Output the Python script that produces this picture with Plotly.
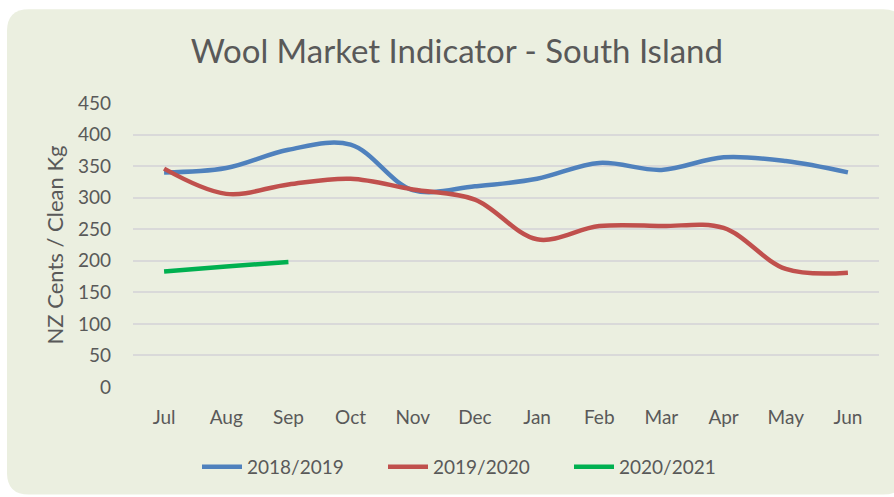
import plotly.graph_objects as go

months = ["Jul", "Aug", "Sep", "Oct", "Nov", "Dec", "Jan", "Feb", "Mar", "Apr", "May", "Jun"]
s2018_2019 = [340, 347, 376, 384, 312, 318, 330, 355, 344, 364, 358, 340]
s2019_2020 = [346, 306, 321, 330, 313, 297, 234, 255, 255, 252, 187, 181]
s2020_2021 = [183, 191, 198]
y_ticks = [0, 50, 100, 150, 200, 250, 300, 350, 400, 450]

W, H = 894, 497
ML, MR, MT, MB = 133, 15, 103, 109
PW, PH = W - ML - MR, H - MT - MB

def fx(px):
    return (px - ML) / PW

def fy(py):
    return (H - MB - py) / PH

TXT = "#595959"
FONT = "Lato"
BG = "#EBEFE0"

fig = go.Figure()
fig.add_trace(go.Scatter(x=months, y=s2018_2019, mode="lines", name="2018/2019",
                         line=dict(color="#4F81BD", width=4.5, shape="spline", smoothing=1)))
fig.add_trace(go.Scatter(x=months, y=s2019_2020, mode="lines", name="2019/2020",
                         line=dict(color="#C0504D", width=4.5, shape="spline", smoothing=1)))
fig.add_trace(go.Scatter(x=months[:len(s2020_2021)], y=s2020_2021, mode="lines", name="2020/2021",
                         line=dict(color="#00B050", width=4.5, shape="spline", smoothing=1)))

# rounded background panel
x0, x1, y0, y1 = 7, 905, 9, 496
r = 22
rx, ry = r / PW, r / PH
path = (f"M {fx(x0)+rx},{fy(y0)} L {fx(x1)-rx},{fy(y0)} Q {fx(x1)},{fy(y0)} {fx(x1)},{fy(y0)-ry} "
        f"L {fx(x1)},{fy(y1)+ry} Q {fx(x1)},{fy(y1)} {fx(x1)-rx},{fy(y1)} "
        f"L {fx(x0)+rx},{fy(y1)} Q {fx(x0)},{fy(y1)} {fx(x0)},{fy(y1)+ry} "
        f"L {fx(x0)},{fy(y0)-ry} Q {fx(x0)},{fy(y0)} {fx(x0)+rx},{fy(y0)} Z")
fig.add_shape(type="path", path=path, xref="paper", yref="paper",
              fillcolor=BG, line=dict(width=0), layer="below")

fig.update_layout(
    width=W, height=H,
    margin=dict(l=ML, r=MR, t=MT, b=MB),
    paper_bgcolor="white",
    plot_bgcolor="rgba(0,0,0,0)",
    font=dict(family=FONT, color=TXT),
    title=dict(text="Wool Market Indicator - South Island", x=0.511, xanchor="center",
               y=1 - 51 / H, yanchor="middle", yref="container",
               font=dict(size=33, color=TXT, family=FONT)),
    xaxis=dict(range=[-0.5, len(months) - 0.5], showgrid=False, showline=False, zeroline=False,
               ticks="", tickfont=dict(size=19, color=TXT), ticklabelstandoff=17,
               automargin=False, fixedrange=True),
    yaxis=dict(range=[0, 450], tickvals=y_ticks, showgrid=True, gridcolor="#D9D9D9",
               gridwidth=1.5, zeroline=False, showline=False, ticks="",
               tickfont=dict(size=19, color=TXT), ticklabelstandoff=21, automargin=False,
               fixedrange=True,
               title=dict(text="NZ Cents / Clean Kg", font=dict(size=22, color=TXT), standoff=8)),
    legend=dict(orientation="h", x=0.5 - 30 / PW, xanchor="center", y=fy(467), yanchor="middle",
                font=dict(size=19, color=TXT), bgcolor="rgba(0,0,0,0)", itemwidth=40,
                entrywidth=131),
    showlegend=True,
)

fig.write_html("out.html", post_script="document.body.style.margin='0';",
               config={"displayModeBar": False})
